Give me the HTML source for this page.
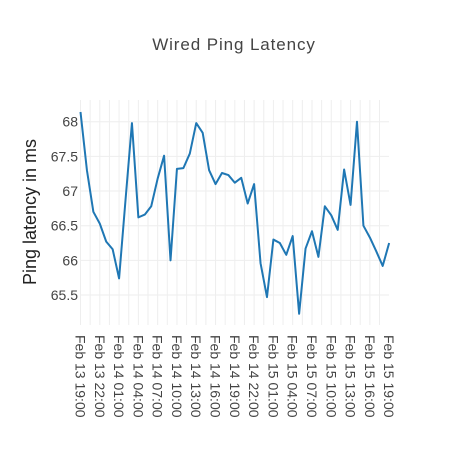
<!DOCTYPE html>
<html><head><meta charset="utf-8"><style>
body{margin:0;background:#fff;}
svg{display:block;font-family:"Liberation Sans",sans-serif;}
</style></head><body>
<svg id="chart" width="468" height="450">
<rect width="468" height="450" fill="#fff"/>
<text x="234" y="50" text-anchor="middle" font-size="17" letter-spacing="0.9" fill="#444">Wired Ping Latency</text>
<text transform="translate(36,212) rotate(-90)" text-anchor="middle" font-size="18" fill="#222">Ping latency in ms</text>
<g id="grid"></g><g id="yt"></g><g id="xt"></g>
<path id="line" fill="none" stroke="#1f77b4" stroke-width="2" stroke-linejoin="round"/>
</svg>
<script>
const values=[68.14,67.30,66.70,66.53,66.27,66.16,65.74,66.87,67.98,66.62,66.66,66.78,67.18,67.51,66.00,67.32,67.33,67.54,67.98,67.84,67.30,67.10,67.26,67.23,67.12,67.19,66.82,67.10,65.96,65.47,66.30,66.25,66.08,66.35,65.23,66.17,66.42,66.05,66.78,66.65,66.44,67.31,66.80,68.00,66.50,66.33,66.13,65.92,66.25];
const yTicks=[65.5,66,66.5,67,67.5,68];
const xTickLabels=["Feb 13 19:00","Feb 13 22:00","Feb 14 01:00","Feb 14 04:00","Feb 14 07:00","Feb 14 10:00","Feb 14 13:00","Feb 14 16:00","Feb 14 19:00","Feb 14 22:00","Feb 15 01:00","Feb 15 04:00","Feb 15 07:00","Feb 15 10:00","Feb 15 13:00","Feb 15 16:00","Feb 15 19:00"];
const X0=80.5,HOUR=6.43,TOP=100,BOT=325,RIGHT=389;
const xs=h=>X0+h*HOUR;
const ys=v=>121.7+(68-v)*69.33;
const NS="http://www.w3.org/2000/svg";
const grid=document.getElementById('grid'),yt=document.getElementById('yt'),xt=document.getElementById('xt');
function mk(tag,a){const e=document.createElementNS(NS,tag);for(const k in a)e.setAttribute(k,a[k]);return e;}
for(let h=0;h<=48;h+=1.5){const x=xs(h);if(x>RIGHT)break;
 const l=mk('line',{x1:x,x2:x,y1:TOP,y2:BOT,stroke:'#eee','stroke-width':1});
 
 
 grid.appendChild(l);}
yTicks.forEach(v=>{const y=ys(v);
 const l=mk('line',{x1:X0,x2:RIGHT,y1:y,y2:y,stroke:'#eee','stroke-width':1});
 
 
 grid.appendChild(l);
 const t=mk('text',{x:78,y:y+5,'text-anchor':'end','font-size':14,fill:'#444'});
 t.textContent=String(v);
 
 
 yt.appendChild(t);});
xTickLabels.forEach((s,i)=>{const x=xs(i*3);
 const t=mk('text',{transform:`translate(${x-5},335) rotate(90)`,'font-size':14,fill:'#444'});
 t.textContent=s;
 
 
 xt.appendChild(t);});
document.getElementById('line').setAttribute('d',values.map((v,i)=>(i?'L':'M')+xs(i).toFixed(2)+','+ys(v).toFixed(2)).join(''));
</script>
</body></html>
